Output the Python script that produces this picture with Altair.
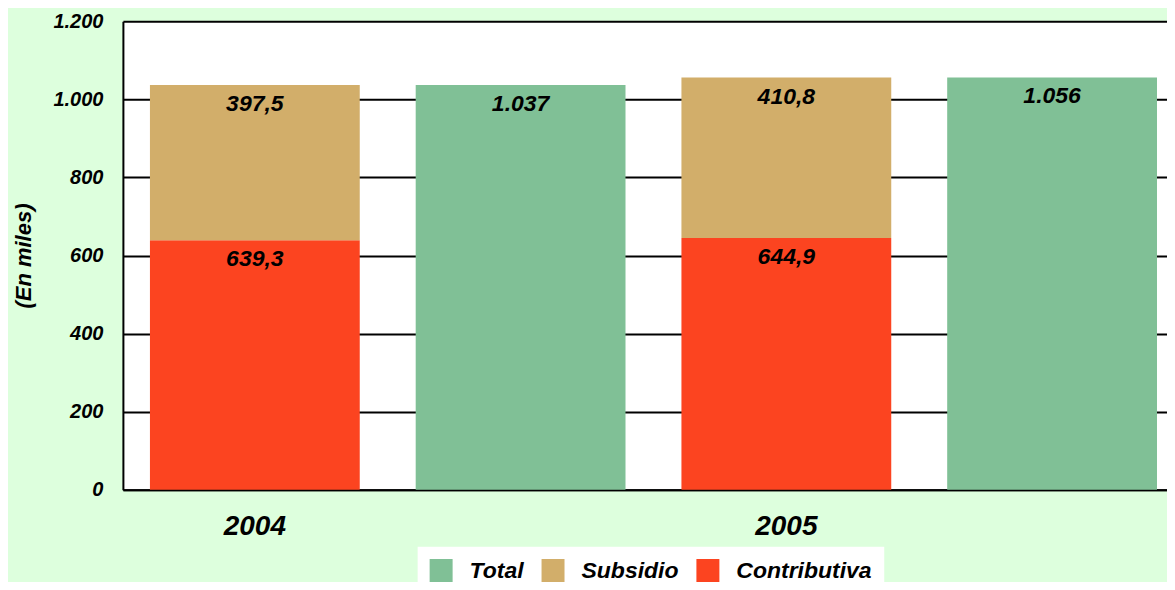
import altair as alt
import pandas as pd

categorias = ["2004", "2004 Total", "2005", "2005 Total"]
cat_col = ["2004", "2004", "2004 Total", "2005", "2005", "2005 Total"]
serie_col = ["Contributiva", "Subsidio", "Total", "Contributiva", "Subsidio", "Total"]
valores = [639.3, 397.5, 1037, 644.9, 410.8, 1056]
series = ["Total", "Subsidio", "Contributiva"]
colores = ["#80C096", "#D2AE6A", "#FC4420"]
ticks_y = list(range(0, 1201, 100))

df = pd.DataFrame({"cat": cat_col, "serie": serie_col, "valor": valores})

FONT = "Liberation Sans"

base = alt.Chart(df).transform_calculate(
    ord="indexof(['Contributiva','Subsidio','Total'], datum.serie)"
).transform_stack(
    stack="valor", groupby=["cat"], as_=["v0", "v1"], sort=[alt.SortField("ord", order="ascending")]
).transform_calculate(
    txt="datum.serie == 'Total' ? replace(format(datum.valor, ',.0f'), ',', '.') : replace(format(datum.valor, '.1f'), '.', ',')"
)

xenc = alt.X(
    "cat:N",
    sort=categorias,
    scale=alt.Scale(domain=categorias, paddingInner=0.2105, paddingOuter=0.0697, align=0.73),
    axis=alt.Axis(
        title=None,
        labelExpr="indexof(datum.value, 'Total') >= 0 ? '' : datum.value",
        labelFont=FONT, labelFontSize=28, labelFontWeight="bold", labelFontStyle="italic",
        labelColor="black", labelPadding=23, labelAngle=0,
        ticks=False, grid=False, domainColor="black", domainWidth=2,
    ),
)

bars = base.mark_bar().encode(
    x=xenc,
    y=alt.Y(
        "v1:Q",
        scale=alt.Scale(domain=[0, 1200], nice=False),
        axis=alt.Axis(
            title="(En miles)", values=ticks_y,
            labelExpr="datum.value % 200 == 0 ? replace(format(datum.value, ','), ',', '.') : ''",
            labelFont=FONT, labelFontSize=20, labelFontWeight="bold", labelFontStyle="italic",
            labelColor="black", labelPadding=20,
            titleFont=FONT, titleFontSize=22, titleFontWeight="bold", titleFontStyle="italic",
            titleColor="black", titleX=-99, titleBaseline="middle", titleAngle=-90,
            ticks=False, grid=True, gridColor="black", gridWidth=2, gridOpacity=1,
            domainColor="black", domainWidth=2,
        ),
    ),
    y2="v0:Q",
    color=alt.Color(
        "serie:N",
        scale=alt.Scale(domain=series, range=colores),
        legend=alt.Legend(
            title=None, orient="none", direction="horizontal", legendX=295, legendY=526,
            fillColor="white", padding=12, symbolType="square", symbolSize=529,
            symbolStrokeWidth=0, symbolOpacity=1, labelFont=FONT, labelFontSize=23, labelFontWeight="bold",
            labelFontStyle="italic", labelColor="black", labelOffset=17, columnPadding=17,
        ),
    ),
)

labels = base.mark_text(
    baseline="top", dy=8, font=FONT, fontSize=23, fontWeight="bold", fontStyle="italic", color="black"
).encode(
    x=alt.X("cat:N", sort=categorias),
    y="v1:Q",
    text="txt:N",
)

chart = alt.layer(bars, labels).properties(
    width=1045, height=469,
    autosize=alt.AutoSizeParams(type="none"),
    padding={"left": 115, "top": 13, "right": 0, "bottom": 92},
).configure(background="#DDFFDD").configure_view(fill="white", stroke=None)

chart.save("out.html", embed_options={"renderer": "svg", "actions": False})
